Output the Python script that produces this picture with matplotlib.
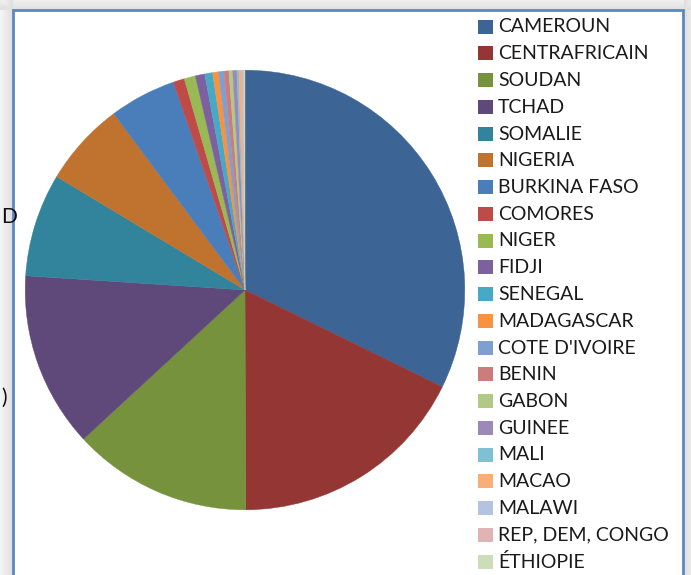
import matplotlib
matplotlib.use("Agg")
import matplotlib.pyplot as plt
import numpy as np
from matplotlib.patches import Rectangle

categories = ["CAMEROUN", "CENTRAFRICAIN", "SOUDAN", "TCHAD", "SOMALIE", "NIGERIA",
              "BURKINA FASO", "COMORES", "NIGER", "FIDJI", "SENEGAL", "MADAGASCAR",
              "COTE D'IVOIRE", "BENIN", "GABON", "GUINEE", "MALI", "MACAO", "MALAWI",
              "REP, DEM, CONGO", "ÉTHIOPIE"]
values = [32.3, 17.7, 13.2, 12.9, 7.6, 6.2, 4.9, 0.83, 0.83, 0.69, 0.58, 0.44,
          0.39, 0.36, 0.28, 0.30, 0.14, 0.22, 0.11, 0.06, 0.06]
colors = ["#3C6494", "#943634", "#76923C", "#5F497A", "#31849B", "#C0722F",
          "#4A7EBB", "#BE4B48", "#98B954", "#7D60A0", "#46AAC5", "#F69240",
          "#7F9FD0", "#CC7D7B", "#B0C985", "#9C89B8", "#7FC0D3", "#F8AE78",
          "#B4C3DF", "#E0B4B4", "#CCDDB8"]

W, H = 691, 575
fig = plt.figure(figsize=(W / 100, H / 100), dpi=100)

# background with soft gray shading outside the chart frame
bg = fig.add_axes([0, 0, 1, 1], zorder=-10)
bg.set_axis_off()
yy, xx = np.mgrid[0:H, 0:W]
dist = np.minimum(np.where(xx < 13, 13 - xx, 999), np.where(yy < 10, 10 - yy, 999))
dist = np.minimum(dist, np.where(xx > 683, xx - 683, 999)).astype(float)
shade = 0.87 + 0.09 * np.clip(dist / 13.0, 0, 1)
img = np.dstack([shade, shade, shade])
bg.imshow(img, extent=[0, W, H, 0], aspect="auto", interpolation="bilinear")
bg.set_xlim(0, W)
bg.set_ylim(H, 0)

# clipped text behind the frame
bg.text(1, 217, "D", fontsize=15, va="center", ha="left", color="#111111", family="Lato")
bg.text(1, 398, ")", fontsize=15, va="center", ha="left", color="#111111", family="Lato")

# white frame
bg.add_patch(Rectangle((13, 10), 670, H, facecolor="white", edgecolor="#5B87C5",
                       linewidth=2.0, zorder=2))

# pie
cx, cy, r = 245, 290, 222
ax = fig.add_axes([(cx - r) / W, (H - cy - r) / H, 2 * r / W, 2 * r / H], zorder=1)
wedges, _ = ax.pie(values, colors=colors, startangle=90, counterclock=False,
                   radius=1.0,
                   wedgeprops=dict(linewidth=0.3, edgecolor="white"))
for w, c in zip(wedges, colors):
    w.set_edgecolor(c)
ax.set_xlim(-1.01, 1.01)
ax.set_ylim(-1.01, 1.01)
ax.set_axis_off()

# legend
lx_sq, lx_txt, ly0, dy = 478, 498, 26.5, 26.75
for i, (name, c) in enumerate(zip(categories, colors)):
    y = ly0 + i * dy
    bg.add_patch(Rectangle((lx_sq, y - 7), 15, 14, facecolor=c, edgecolor="none", zorder=3))
    bg.text(lx_txt, y + 0.5, name, fontsize=14, va="center", ha="left",
            color="#1A1A1A", family="Lato", zorder=4)

fig.savefig("out.png", dpi=100)
